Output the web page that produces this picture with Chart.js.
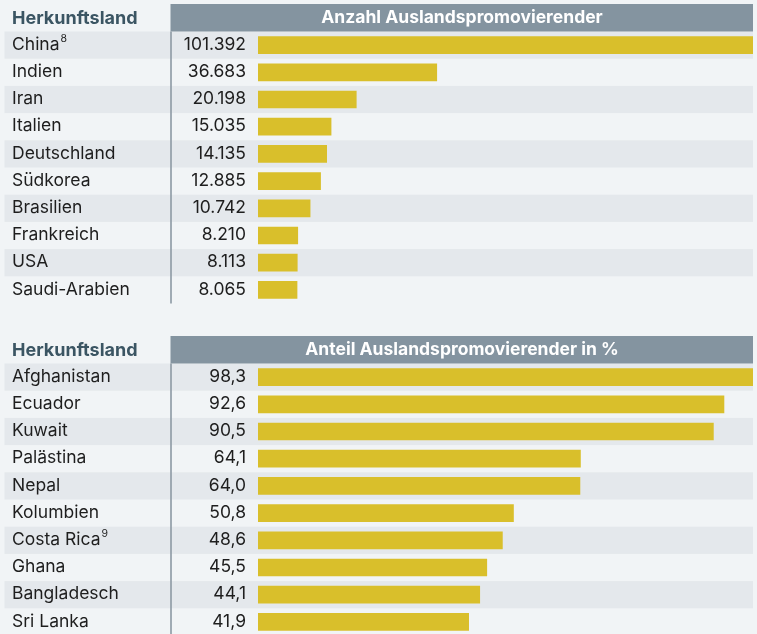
<!DOCTYPE html>
<html><head><meta charset="utf-8">
<script src="https://cdn.jsdelivr.net/npm/chart.js@4/dist/chart.umd.min.js"></script>
<style>
html,body{margin:0;padding:0;background:#f1f4f6;overflow:hidden;width:757px;height:634px}
#c1w{position:absolute;left:0;top:0;width:757px;height:317px}
#c2w{position:absolute;left:0;top:310px;width:757px;height:330px}
</style></head><body>
<div id="c1w"><canvas id="c1"></canvas></div>
<div id="c2w"><canvas id="c2"></canvas></div>
<script>
const colLabel = "Herkunftsland";
const header1 = "Anzahl Auslandspromovierender";
const countries1 = ["China","Indien","Iran","Italien","Deutschland","Südkorea","Brasilien","Frankreich","USA","Saudi-Arabien"];
const notes1 = ["8","","","","","","","","",""];
const values1 = [101392,36683,20198,15035,14135,12885,10742,8210,8113,8065];

const header2 = "Anteil Auslandspromovierender in %";
const countries2 = ["Afghanistan","Ecuador","Kuwait","Palästina","Nepal","Kolumbien","Costa Rica","Ghana","Bangladesch","Sri Lanka"];
const notes2 = ["","","","","","","9","","",""];
const values2 = [98.3,92.6,90.5,64.1,64.0,50.8,48.6,45.5,44.1,41.9];

const FONT = "Inter";
function fmtInt(v){ return String(Math.round(v)).replace(/\B(?=(\d{3})+(?!\d))/g,"."); }
function fmtDec(v){ return v.toFixed(1).replace(".",","); }

function tablePlugin(notes, header, fmt){
  return {
    id:'table',
    beforeDatasetsDraw(chart){
      const ctx = chart.ctx, a = chart.chartArea, n = chart.data.labels.length;
      const pitch = (a.bottom - a.top)/n;
      ctx.save();
      ctx.fillStyle = '#e4e8ec';
      for(let i=0;i<n;i+=2){ ctx.fillRect(4.5, a.top+i*pitch, 753-4.5, pitch); }
      const hTop = a.top-27.5;
      ctx.fillStyle = '#8494a0';
      ctx.fillRect(170.5, hTop, 753-170.5, 27.5);
      ctx.fillStyle = '#ffffff';
      ctx.font = `bold 17.5px ${FONT}`;
      ctx.textAlign='center'; ctx.textBaseline='middle';
      ctx.fillText(header, 462, hTop+14);
      ctx.fillStyle = '#3b5563';
      ctx.textAlign='left';
      ctx.font = `bold 18px ${FONT}`;
      ctx.fillText(colLabel, 12, hTop+15);
      ctx.strokeStyle = '#8c99a4'; ctx.lineWidth = 1.6;
      ctx.beginPath(); ctx.moveTo(171, a.top); ctx.lineTo(171, a.bottom); ctx.stroke();
      ctx.restore();
    },
    afterDatasetsDraw(chart){
      const ctx = chart.ctx, ys = chart.scales.y;
      ctx.save();
      ctx.fillStyle = '#1e1e1e';
      ctx.textBaseline='middle';
      chart.data.labels.forEach((lab,i)=>{
        const y = ys.getPixelForValue(i)-0.5;
        ctx.font = `17.5px ${FONT}`;
        ctx.textAlign='left';
        ctx.fillText(lab, 12, y);
        if(notes[i]){
          const w = ctx.measureText(lab).width;
          ctx.font = `10.5px ${FONT}`;
          ctx.fillText(notes[i], 12+w+1, y-6);
          ctx.font = `17.5px ${FONT}`;
        }
        ctx.textAlign='right';
        ctx.fillText(fmt(chart.data.datasets[0].data[i]), 246, y);
      });
      ctx.restore();
    }
  };
}

function makeChart(id, labels, notes, values, header, fmt, padTop, padBottom){
  return new Chart(document.getElementById(id), {
    type:'bar',
    data:{labels, datasets:[{data:values, backgroundColor:'#d9bf2b', borderWidth:0, barPercentage:0.65, categoryPercentage:1}]},
    options:{
      indexAxis:'y', responsive:true, maintainAspectRatio:false, animation:false,
      layout:{padding:{left:258,right:4,top:padTop,bottom:padBottom}},
      scales:{x:{display:false,min:0,max:Math.max(...values)}, y:{display:false}},
      plugins:{legend:{display:false},tooltip:{enabled:false}}
    },
    plugins:[tablePlugin(notes, header, fmt)]
  });
}
makeChart('c1', countries1, notes1, values1, header1, fmtInt, 31.5, 13.5);
makeChart('c2', countries2, notes2, values2, header2, fmtDec, 53.5, 4.5);
</script>
</body></html>
